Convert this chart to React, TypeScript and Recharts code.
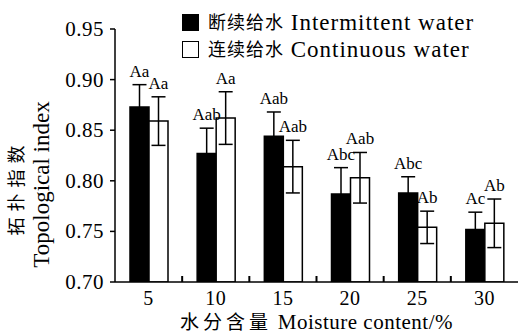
import React from 'react';
import {
  BarChart,
  Bar,
  XAxis,
  YAxis,
  ErrorBar,
  LabelList,
  Legend,
} from 'recharts';

const moisture = ['5', '10', '15', '20', '25', '30'];
const intermittent = [0.873, 0.827, 0.844, 0.787, 0.788, 0.752];
const intermittentErr = [0.022, 0.025, 0.024, 0.026, 0.016, 0.017];
const intermittentSig = ['Aa', 'Aab', 'Aab', 'Abc', 'Abc', 'Ac'];
const continuous = [0.859, 0.862, 0.814, 0.803, 0.754, 0.758];
const continuousErr = [0.024, 0.026, 0.026, 0.025, 0.016, 0.024];
const continuousSig = ['Aa', 'Aa', 'Aab', 'Aab', 'Ab', 'Ab'];
const yTicks = [0.7, 0.75, 0.8, 0.85, 0.9, 0.95];

const FONT = 'Liberation Serif, Times New Roman, Noto Sans CJK SC, serif';
const Y_MIN = 0.7;
const CHART_W = 518;
const CHART_H = 333;
const Y_AXIS_W = 115;
// half a category band, used to put the small x ticks between groups
const HALF_BAND = (CHART_W - Y_AXIS_W) / moisture.length / 2;

const data = moisture.map((m, i) => ({
  moisture: m,
  intermittent: intermittent[i],
  intermittentErr: intermittentErr[i],
  continuous: continuous[i],
  continuousErr: continuousErr[i],
}));

const makeSigLabel = (errs: number[], sigs: string[]) => (props: any) => {
  const { x = 0, y = 0, width = 0, height = 0, value = 0, index = 0 } = props;
  const pxPerUnit = height / (Number(value) - Y_MIN);
  const errTop = y - errs[index] * pxPerUnit;
  return (
    <text
      x={x + width / 2}
      y={errTop - 8}
      textAnchor="middle"
      fill="#000"
      fontFamily={FONT}
      fontSize={17}
    >
      {sigs[index]}
    </text>
  );
};

const XTick = (props: any) => {
  const { x = 0, y = 0, payload, index = 0 } = props;
  return (
    <g>
      <text
        x={x}
        y={y + 16}
        textAnchor="middle"
        dominantBaseline="central"
        fill="#000"
        fontFamily={FONT}
        fontSize={20}
        letterSpacing={0.5}
      >
        {payload.value}
      </text>
      {index < moisture.length - 1 && (
        <line
          x1={x + HALF_BAND}
          x2={x + HALF_BAND}
          y1={y}
          y2={y - 6}
          stroke="#000"
          strokeWidth={2}
        />
      )}
    </g>
  );
};

const YTick = (props: any) => {
  const { x = 0, y = 0, payload } = props;
  return (
    <text
      x={x}
      y={y}
      textAnchor="end"
      dominantBaseline="central"
      fill="#000"
      fontFamily={FONT}
      fontSize={21}
      letterSpacing={0.5}
    >
      {Number(payload.value).toFixed(2)}
    </text>
  );
};

const YLabel = (props: any) => {
  const vb = props.viewBox || { x: 0, y: 0, width: 0, height: 0 };
  const cy = vb.y + vb.height / 2 + 29;
  return (
    <g fill="#000" fontFamily={FONT}>
      <text
        x={17}
        y={cy + 3}
        transform={`rotate(-90, 17, ${cy + 3})`}
        textAnchor="middle"
        dominantBaseline="central"
        fontSize={18}
        letterSpacing={6}
      >
        拓扑指数
      </text>
      <text
        x={41}
        y={cy}
        transform={`rotate(-90, 41, ${cy})`}
        textAnchor="middle"
        dominantBaseline="central"
        fontSize={23}
      >
        Topological index
      </text>
    </g>
  );
};

const XLabel = (props: any) => {
  const vb = props.viewBox || { x: 0, y: 0, width: 0, height: 0 };
  return (
    <text
      x={vb.x + vb.width / 2}
      y={322}
      textAnchor="middle"
      dominantBaseline="central"
      fill="#000"
      fontFamily={FONT}
      fontSize={21}
    >
      <tspan fontSize={19} letterSpacing={4}>
        水分含量
      </tspan>
      <tspan letterSpacing={0.5}> Moisture content/%</tspan>
    </text>
  );
};

const LegendBox = () => {
  const items = [
    { fill: '#000', cn: '断续给水', en: 'Intermittent water' },
    { fill: '#fff', cn: '连续给水', en: 'Continuous water' },
  ];
  return (
    <div style={{ fontFamily: FONT, fontSize: 23, color: '#000', lineHeight: 1 }}>
      {items.map((it) => (
        <div
          key={it.en}
          style={{ display: 'flex', alignItems: 'center', height: 27 }}
        >
          <span
            style={{
              width: 15,
              height: 15,
              background: it.fill,
              border: '1.5px solid #000',
              display: 'inline-block',
              marginRight: 9,
              flex: 'none',
            }}
          />
          <span style={{ fontSize: 18, letterSpacing: 1 }}>{it.cn}</span>
          <span style={{ whiteSpace: 'pre', letterSpacing: 1 }}> {it.en}</span>
        </div>
      ))}
    </div>
  );
};

const App: React.FC = () => {
  return (
    <div
      style={{
        position: 'absolute',
        left: 0,
        top: 0,
        width: CHART_W,
        height: CHART_H,
        background: '#fff',
        fontFamily: FONT,
      }}
    >
      <BarChart
        width={CHART_W}
        height={CHART_H}
        data={data}
        margin={{ top: 29, right: 0, left: 0, bottom: 0 }}
        barGap={0}
        barSize={19}
      >
        <XAxis
          dataKey="moisture"
          height={51}
          axisLine={{ stroke: '#000', strokeWidth: 1.5 }}
          tickLine={false}
          tickSize={0}
          tickMargin={0}
          tick={<XTick />}
          interval={0}
          label={<XLabel />}
        />
        <YAxis
          width={Y_AXIS_W}
          domain={[0.7, 0.95]}
          ticks={yTicks}
          allowDataOverflow
          axisLine={{ stroke: '#000', strokeWidth: 1.5 }}
          tickLine={{ stroke: '#000', strokeWidth: 1.5 }}
          tickSize={5}
          tickMargin={6}
          tick={<YTick />}
          label={<YLabel />}
        />
        <Legend
          verticalAlign="top"
          align="left"
          content={<LegendBox />}
          wrapperStyle={{
            top: 9,
            left: 182,
            width: 330,
            height: 0,
            overflow: 'visible',
          }}
        />
        <Bar
          dataKey="intermittent"
          fill="#000"
          stroke="#000"
          strokeWidth={1.5}
          isAnimationActive={false}
        >
          <ErrorBar
            dataKey="intermittentErr"
            width={7}
            stroke="#000"
            strokeWidth={1.5}
            direction="y"
          />
          <LabelList
            dataKey="intermittent"
            content={makeSigLabel(intermittentErr, intermittentSig)}
          />
        </Bar>
        <Bar
          dataKey="continuous"
          fill="#fff"
          stroke="#000"
          strokeWidth={1.5}
          isAnimationActive={false}
        >
          <ErrorBar
            dataKey="continuousErr"
            width={7}
            stroke="#000"
            strokeWidth={1.5}
            direction="y"
          />
          <LabelList
            dataKey="continuous"
            content={makeSigLabel(continuousErr, continuousSig)}
          />
        </Bar>
      </BarChart>
    </div>
  );
};

export default App;
